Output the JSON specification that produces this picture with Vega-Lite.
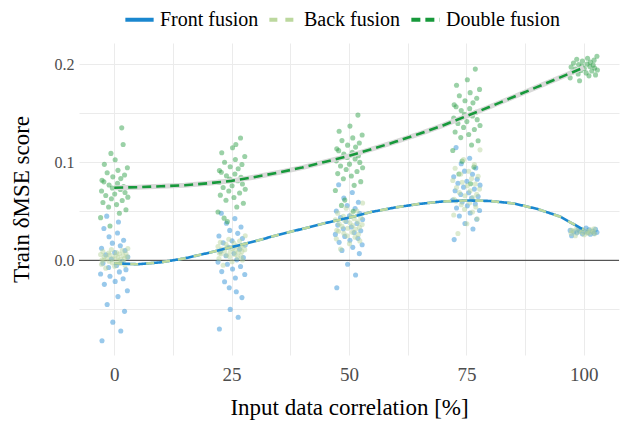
{
"$schema": "https://vega.github.io/schema/vega-lite/v6.json",
"width": 540, "height": 312,
"autosize": {"type": "none"},
"padding": {"left": 79, "top": 43, "right": 7, "bottom": 70},
"background": "white",
"config": {
  "view": {"stroke": null},
  "font": "Liberation Serif"
},
"datasets": {
"pts": [
{"x":-2.6,"y":-0.082,"s":"F"},{"x":1.4,"y":-0.072,"s":"F"},{"x":-0.3,"y":-0.063,"s":"F"},{"x":2.2,"y":-0.052,"s":"F"},{"x":-1.5,"y":-0.045,"s":"F"},{"x":0.8,"y":-0.037,"s":"F"},{"x":2.8,"y":-0.031,"s":"F"},{"x":-2.1,"y":-0.0245,"s":"F"},{"x":0.2,"y":-0.0215,"s":"F"},{"x":1.9,"y":-0.0188,"s":"F"},{"x":-0.9,"y":-0.0163,"s":"F"},{"x":-2.9,"y":-0.014,"s":"F"},{"x":1.1,"y":-0.0118,"s":"F"},{"x":2.5,"y":-0.0095,"s":"F"},{"x":-1.2,"y":-0.0073,"s":"F"},{"x":0.5,"y":-0.0053,"s":"F"},{"x":-2.4,"y":-0.003,"s":"F"},{"x":1.7,"y":-0.001,"s":"F"},{"x":-0.6,"y":0.0013,"s":"F"},{"x":2.9,"y":0.0033,"s":"F"},{"x":-1.8,"y":0.0055,"s":"F"},{"x":0.1,"y":0.0078,"s":"F"},{"x":2.3,"y":0.010,"s":"F"},{"x":-2.7,"y":0.0123,"s":"F"},{"x":1.3,"y":0.0148,"s":"F"},{"x":-0.4,"y":0.0175,"s":"F"},{"x":2.0,"y":0.0205,"s":"F"},{"x":-1.1,"y":0.024,"s":"F"},{"x":0.7,"y":0.0278,"s":"F"},{"x":-2.2,"y":0.0325,"s":"F"},{"x":0.9,"y":0.039,"s":"F"},{"x":-1.6,"y":0.045,"s":"F"},
{"x":22.4,"y":-0.07,"s":"F"},{"x":26.4,"y":-0.058,"s":"F"},{"x":24.7,"y":-0.05,"s":"F"},{"x":27.2,"y":-0.038,"s":"F"},{"x":23.5,"y":-0.0218,"s":"F"},{"x":25.8,"y":-0.018,"s":"F"},{"x":27.8,"y":-0.0145,"s":"F"},{"x":22.9,"y":-0.0115,"s":"F"},{"x":25.2,"y":-0.0088,"s":"F"},{"x":26.9,"y":-0.0063,"s":"F"},{"x":24.1,"y":-0.004,"s":"F"},{"x":22.1,"y":-0.0018,"s":"F"},{"x":26.1,"y":0.0005,"s":"F"},{"x":27.5,"y":0.0027,"s":"F"},{"x":23.8,"y":0.0047,"s":"F"},{"x":25.5,"y":0.007,"s":"F"},{"x":22.6,"y":0.009,"s":"F"},{"x":26.7,"y":0.0113,"s":"F"},{"x":24.4,"y":0.0133,"s":"F"},{"x":27.9,"y":0.0155,"s":"F"},{"x":23.2,"y":0.0178,"s":"F"},{"x":25.1,"y":0.020,"s":"F"},{"x":27.3,"y":0.0223,"s":"F"},{"x":22.3,"y":0.0248,"s":"F"},{"x":26.3,"y":0.0275,"s":"F"},{"x":24.6,"y":0.0305,"s":"F"},{"x":27.0,"y":0.034,"s":"F"},{"x":23.9,"y":0.0378,"s":"F"},{"x":25.7,"y":0.0425,"s":"F"},{"x":22.8,"y":0.048,"s":"F"},{"x":24.5,"y":-0.028,"s":"F"},{"x":26.0,"y":-0.032,"s":"F"},
{"x":47.4,"y":-0.028,"s":"F"},{"x":51.4,"y":-0.015,"s":"F"},{"x":49.7,"y":-0.004,"s":"F"},{"x":52.2,"y":0.0068,"s":"F"},{"x":48.5,"y":0.0101,"s":"F"},{"x":50.8,"y":0.0132,"s":"F"},{"x":52.8,"y":0.0158,"s":"F"},{"x":47.9,"y":0.0183,"s":"F"},{"x":50.2,"y":0.0205,"s":"F"},{"x":51.9,"y":0.0224,"s":"F"},{"x":49.1,"y":0.0244,"s":"F"},{"x":47.1,"y":0.0264,"s":"F"},{"x":51.1,"y":0.0284,"s":"F"},{"x":52.5,"y":0.0301,"s":"F"},{"x":48.8,"y":0.0321,"s":"F"},{"x":50.5,"y":0.0339,"s":"F"},{"x":47.6,"y":0.0359,"s":"F"},{"x":51.7,"y":0.0376,"s":"F"},{"x":49.4,"y":0.0396,"s":"F"},{"x":52.9,"y":0.0416,"s":"F"},{"x":48.2,"y":0.0436,"s":"F"},{"x":50.1,"y":0.0455,"s":"F"},{"x":52.3,"y":0.0477,"s":"F"},{"x":47.3,"y":0.0502,"s":"F"},{"x":51.3,"y":0.0528,"s":"F"},{"x":49.6,"y":0.0559,"s":"F"},{"x":52.0,"y":0.0592,"s":"F"},{"x":48.9,"y":0.0634,"s":"F"},{"x":50.7,"y":0.0691,"s":"F"},{"x":47.8,"y":0.077,"s":"F"},
{"x":72.4,"y":0.0211,"s":"F"},{"x":76.4,"y":0.0319,"s":"F"},{"x":74.7,"y":0.0376,"s":"F"},{"x":77.2,"y":0.0418,"s":"F"},{"x":73.5,"y":0.0451,"s":"F"},{"x":75.8,"y":0.0482,"s":"F"},{"x":77.8,"y":0.0508,"s":"F"},{"x":72.9,"y":0.0533,"s":"F"},{"x":75.2,"y":0.0555,"s":"F"},{"x":76.9,"y":0.0574,"s":"F"},{"x":74.1,"y":0.0594,"s":"F"},{"x":72.1,"y":0.0614,"s":"F"},{"x":76.1,"y":0.0634,"s":"F"},{"x":77.5,"y":0.0651,"s":"F"},{"x":73.8,"y":0.0671,"s":"F"},{"x":75.5,"y":0.0689,"s":"F"},{"x":72.6,"y":0.0709,"s":"F"},{"x":76.7,"y":0.0726,"s":"F"},{"x":74.4,"y":0.0746,"s":"F"},{"x":77.9,"y":0.0766,"s":"F"},{"x":73.2,"y":0.0786,"s":"F"},{"x":75.1,"y":0.0805,"s":"F"},{"x":77.3,"y":0.0827,"s":"F"},{"x":72.3,"y":0.0852,"s":"F"},{"x":76.3,"y":0.0878,"s":"F"},{"x":74.6,"y":0.0909,"s":"F"},{"x":77.0,"y":0.0942,"s":"F"},{"x":73.9,"y":0.0984,"s":"F"},{"x":75.7,"y":0.1041,"s":"F"},{"x":72.8,"y":0.1149,"s":"F"},
{"x":97.4,"y":0.025,"s":"F"},{"x":101.4,"y":0.0265,"s":"F"},{"x":99.7,"y":0.027,"s":"F"},{"x":102.2,"y":0.0275,"s":"F"},{"x":98.5,"y":0.028,"s":"F"},{"x":100.8,"y":0.0285,"s":"F"},{"x":102.8,"y":0.0285,"s":"F"},{"x":97.9,"y":0.029,"s":"F"},{"x":100.2,"y":0.029,"s":"F"},{"x":101.9,"y":0.0295,"s":"F"},{"x":99.1,"y":0.030,"s":"F"},{"x":97.1,"y":0.0305,"s":"F"},{"x":101.1,"y":0.031,"s":"F"},{"x":102.5,"y":0.0315,"s":"F"},{"x":98.8,"y":0.032,"s":"F"},{"x":100.5,"y":0.033,"s":"F"},
{"x":-0.9,"y":0.035,"s":"D"},{"x":-2.9,"y":0.0435,"s":"D"},{"x":1.1,"y":0.048,"s":"D"},{"x":2.5,"y":0.0516,"s":"D"},{"x":-1.2,"y":0.0543,"s":"D"},{"x":0.5,"y":0.0568,"s":"D"},{"x":-2.4,"y":0.059,"s":"D"},{"x":1.7,"y":0.061,"s":"D"},{"x":-0.6,"y":0.0627,"s":"D"},{"x":2.9,"y":0.0644,"s":"D"},{"x":-1.8,"y":0.066,"s":"D"},{"x":0.1,"y":0.0676,"s":"D"},{"x":2.3,"y":0.0692,"s":"D"},{"x":-2.7,"y":0.0707,"s":"D"},{"x":1.3,"y":0.0723,"s":"D"},{"x":-0.4,"y":0.0737,"s":"D"},{"x":2.0,"y":0.0753,"s":"D"},{"x":-1.1,"y":0.0768,"s":"D"},{"x":0.7,"y":0.0784,"s":"D"},{"x":-2.2,"y":0.080,"s":"D"},{"x":-2.6,"y":0.0816,"s":"D"},{"x":1.4,"y":0.0833,"s":"D"},{"x":-0.3,"y":0.0851,"s":"D"},{"x":2.2,"y":0.087,"s":"D"},{"x":-1.5,"y":0.0892,"s":"D"},{"x":0.8,"y":0.0917,"s":"D"},{"x":2.8,"y":0.0944,"s":"D"},{"x":-2.1,"y":0.0978,"s":"D"},{"x":0.2,"y":0.1025,"s":"D"},{"x":1.9,"y":0.118,"s":"D"},{"x":1.6,"y":0.135,"s":"D"},{"x":-0.7,"y":0.109,"s":"D"},
{"x":24.1,"y":0.0394,"s":"D"},{"x":22.1,"y":0.0492,"s":"D"},{"x":26.1,"y":0.0544,"s":"D"},{"x":27.5,"y":0.0582,"s":"D"},{"x":23.8,"y":0.0612,"s":"D"},{"x":25.5,"y":0.064,"s":"D"},{"x":22.6,"y":0.0664,"s":"D"},{"x":26.7,"y":0.0686,"s":"D"},{"x":24.4,"y":0.0706,"s":"D"},{"x":27.9,"y":0.0724,"s":"D"},{"x":23.2,"y":0.0742,"s":"D"},{"x":25.1,"y":0.076,"s":"D"},{"x":27.3,"y":0.0778,"s":"D"},{"x":22.3,"y":0.0794,"s":"D"},{"x":26.3,"y":0.0812,"s":"D"},{"x":24.6,"y":0.0828,"s":"D"},{"x":27.0,"y":0.0846,"s":"D"},{"x":23.9,"y":0.0862,"s":"D"},{"x":25.7,"y":0.088,"s":"D"},{"x":22.8,"y":0.0898,"s":"D"},{"x":22.4,"y":0.0916,"s":"D"},{"x":26.4,"y":0.0934,"s":"D"},{"x":24.7,"y":0.0954,"s":"D"},{"x":27.2,"y":0.0976,"s":"D"},{"x":23.5,"y":0.100,"s":"D"},{"x":25.8,"y":0.1028,"s":"D"},{"x":27.8,"y":0.1058,"s":"D"},{"x":22.9,"y":0.1096,"s":"D"},{"x":25.2,"y":0.1148,"s":"D"},{"x":26.9,"y":0.1246,"s":"D"},{"x":25.9,"y":0.118,"s":"D"},{"x":23.4,"y":0.043,"s":"D"},
{"x":49.1,"y":0.0614,"s":"D"},{"x":47.1,"y":0.0712,"s":"D"},{"x":51.1,"y":0.0764,"s":"D"},{"x":52.5,"y":0.0802,"s":"D"},{"x":48.8,"y":0.0832,"s":"D"},{"x":50.5,"y":0.086,"s":"D"},{"x":47.6,"y":0.0884,"s":"D"},{"x":51.7,"y":0.0906,"s":"D"},{"x":49.4,"y":0.0926,"s":"D"},{"x":52.9,"y":0.0944,"s":"D"},{"x":48.2,"y":0.0962,"s":"D"},{"x":50.1,"y":0.098,"s":"D"},{"x":52.3,"y":0.0998,"s":"D"},{"x":47.3,"y":0.1014,"s":"D"},{"x":51.3,"y":0.1032,"s":"D"},{"x":49.6,"y":0.1048,"s":"D"},{"x":52.0,"y":0.1066,"s":"D"},{"x":48.9,"y":0.1082,"s":"D"},{"x":50.7,"y":0.110,"s":"D"},{"x":47.8,"y":0.1118,"s":"D"},{"x":47.4,"y":0.1136,"s":"D"},{"x":51.4,"y":0.1154,"s":"D"},{"x":49.7,"y":0.1174,"s":"D"},{"x":52.2,"y":0.1196,"s":"D"},{"x":48.5,"y":0.122,"s":"D"},{"x":50.8,"y":0.1248,"s":"D"},{"x":52.8,"y":0.1278,"s":"D"},{"x":47.9,"y":0.1316,"s":"D"},{"x":50.2,"y":0.1368,"s":"D"},{"x":51.9,"y":0.148,"s":"D"},{"x":50.9,"y":0.05,"s":"D"},{"x":48.4,"y":0.056,"s":"D"},
{"x":74.1,"y":0.1011,"s":"D"},{"x":72.1,"y":0.1119,"s":"D"},{"x":76.1,"y":0.1176,"s":"D"},{"x":77.5,"y":0.1218,"s":"D"},{"x":73.8,"y":0.1251,"s":"D"},{"x":75.5,"y":0.1282,"s":"D"},{"x":72.6,"y":0.1308,"s":"D"},{"x":76.7,"y":0.1333,"s":"D"},{"x":74.4,"y":0.1355,"s":"D"},{"x":77.9,"y":0.1374,"s":"D"},{"x":73.2,"y":0.1394,"s":"D"},{"x":75.1,"y":0.1414,"s":"D"},{"x":77.3,"y":0.1434,"s":"D"},{"x":72.3,"y":0.1451,"s":"D"},{"x":76.3,"y":0.1471,"s":"D"},{"x":74.6,"y":0.1489,"s":"D"},{"x":77.0,"y":0.1509,"s":"D"},{"x":73.9,"y":0.1526,"s":"D"},{"x":75.7,"y":0.1546,"s":"D"},{"x":72.8,"y":0.1566,"s":"D"},{"x":72.4,"y":0.1586,"s":"D"},{"x":76.4,"y":0.1605,"s":"D"},{"x":74.7,"y":0.1627,"s":"D"},{"x":77.2,"y":0.1652,"s":"D"},{"x":73.5,"y":0.1678,"s":"D"},{"x":75.8,"y":0.1709,"s":"D"},{"x":77.8,"y":0.1742,"s":"D"},{"x":72.9,"y":0.1784,"s":"D"},{"x":75.2,"y":0.1841,"s":"D"},{"x":76.9,"y":0.1949,"s":"D"},{"x":75.9,"y":0.078,"s":"D"},{"x":73.4,"y":0.088,"s":"D"},{"x":76.6,"y":0.095,"s":"D"},
{"x":99.1,"y":0.183,"s":"D"},{"x":97.1,"y":0.186,"s":"D"},{"x":101.1,"y":0.188,"s":"D"},{"x":102.5,"y":0.189,"s":"D"},{"x":98.8,"y":0.19,"s":"D"},{"x":100.5,"y":0.191,"s":"D"},{"x":97.6,"y":0.192,"s":"D"},{"x":101.7,"y":0.193,"s":"D"},{"x":99.4,"y":0.1935,"s":"D"},{"x":102.9,"y":0.194,"s":"D"},{"x":98.2,"y":0.195,"s":"D"},{"x":100.1,"y":0.1955,"s":"D"},{"x":102.3,"y":0.196,"s":"D"},{"x":97.3,"y":0.197,"s":"D"},{"x":101.3,"y":0.1975,"s":"D"},{"x":99.6,"y":0.198,"s":"D"},{"x":102.0,"y":0.199,"s":"D"},{"x":98.9,"y":0.1995,"s":"D"},{"x":100.7,"y":0.2,"s":"D"},{"x":97.8,"y":0.201,"s":"D"},{"x":101.4,"y":0.202,"s":"D"},{"x":99.7,"y":0.203,"s":"D"},{"x":102.2,"y":0.204,"s":"D"},{"x":98.5,"y":0.205,"s":"D"},{"x":100.8,"y":0.206,"s":"D"},{"x":102.8,"y":0.208,"s":"D"},
{"x":-1.8,"y":-0.008,"s":"B"},{"x":0.1,"y":-0.006,"s":"B"},{"x":2.3,"y":-0.005,"s":"B"},{"x":-2.7,"y":-0.004,"s":"B"},{"x":1.3,"y":-0.003,"s":"B"},{"x":-0.4,"y":-0.0025,"s":"B"},{"x":2.0,"y":-0.002,"s":"B"},{"x":-1.1,"y":-0.001,"s":"B"},{"x":0.7,"y":-0.0005,"s":"B"},{"x":-2.2,"y":0.0,"s":"B"},{"x":-2.6,"y":0.0005,"s":"B"},{"x":1.4,"y":0.001,"s":"B"},{"x":-0.3,"y":0.0015,"s":"B"},{"x":2.2,"y":0.002,"s":"B"},{"x":-1.5,"y":0.0025,"s":"B"},{"x":0.8,"y":0.003,"s":"B"},{"x":2.8,"y":0.0035,"s":"B"},{"x":-2.1,"y":0.004,"s":"B"},{"x":0.2,"y":0.0045,"s":"B"},{"x":1.9,"y":0.005,"s":"B"},{"x":-0.9,"y":0.0055,"s":"B"},{"x":-2.9,"y":0.006,"s":"B"},{"x":1.1,"y":0.0065,"s":"B"},{"x":2.5,"y":0.007,"s":"B"},{"x":-1.2,"y":0.0075,"s":"B"},{"x":0.5,"y":0.008,"s":"B"},{"x":-2.4,"y":0.009,"s":"B"},{"x":1.7,"y":0.01,"s":"B"},{"x":-0.6,"y":0.011,"s":"B"},{"x":2.9,"y":0.012,"s":"B"},
{"x":23.2,"y":-0.005,"s":"B"},{"x":25.1,"y":-0.0015,"s":"B"},{"x":27.3,"y":0.0003,"s":"B"},{"x":22.3,"y":0.0017,"s":"B"},{"x":26.3,"y":0.0027,"s":"B"},{"x":24.6,"y":0.0037,"s":"B"},{"x":27.0,"y":0.0045,"s":"B"},{"x":23.9,"y":0.0053,"s":"B"},{"x":25.7,"y":0.006,"s":"B"},{"x":22.8,"y":0.0066,"s":"B"},{"x":22.4,"y":0.0073,"s":"B"},{"x":26.4,"y":0.0079,"s":"B"},{"x":24.7,"y":0.0085,"s":"B"},{"x":27.2,"y":0.0091,"s":"B"},{"x":23.5,"y":0.0097,"s":"B"},{"x":25.8,"y":0.0103,"s":"B"},{"x":27.8,"y":0.0109,"s":"B"},{"x":22.9,"y":0.0115,"s":"B"},{"x":25.2,"y":0.0121,"s":"B"},{"x":26.9,"y":0.0127,"s":"B"},{"x":24.1,"y":0.0134,"s":"B"},{"x":22.1,"y":0.014,"s":"B"},{"x":26.1,"y":0.0147,"s":"B"},{"x":27.5,"y":0.0155,"s":"B"},{"x":23.8,"y":0.0163,"s":"B"},{"x":25.5,"y":0.0173,"s":"B"},{"x":22.6,"y":0.0183,"s":"B"},{"x":26.7,"y":0.0197,"s":"B"},{"x":24.4,"y":0.0215,"s":"B"},{"x":27.9,"y":0.025,"s":"B"},
{"x":48.2,"y":0.0116,"s":"B"},{"x":50.1,"y":0.017,"s":"B"},{"x":52.3,"y":0.0198,"s":"B"},{"x":47.3,"y":0.0219,"s":"B"},{"x":51.3,"y":0.0236,"s":"B"},{"x":49.6,"y":0.0251,"s":"B"},{"x":52.0,"y":0.0264,"s":"B"},{"x":48.9,"y":0.0276,"s":"B"},{"x":50.7,"y":0.0287,"s":"B"},{"x":47.8,"y":0.0297,"s":"B"},{"x":47.4,"y":0.0307,"s":"B"},{"x":51.4,"y":0.0317,"s":"B"},{"x":49.7,"y":0.0327,"s":"B"},{"x":52.2,"y":0.0336,"s":"B"},{"x":48.5,"y":0.0346,"s":"B"},{"x":50.8,"y":0.0354,"s":"B"},{"x":52.8,"y":0.0364,"s":"B"},{"x":47.9,"y":0.0373,"s":"B"},{"x":50.2,"y":0.0383,"s":"B"},{"x":51.9,"y":0.0393,"s":"B"},{"x":49.1,"y":0.0403,"s":"B"},{"x":47.1,"y":0.0413,"s":"B"},{"x":51.1,"y":0.0424,"s":"B"},{"x":52.5,"y":0.0436,"s":"B"},{"x":48.8,"y":0.0449,"s":"B"},{"x":50.5,"y":0.0464,"s":"B"},{"x":47.6,"y":0.0481,"s":"B"},{"x":51.7,"y":0.0502,"s":"B"},{"x":49.4,"y":0.053,"s":"B"},{"x":52.9,"y":0.0584,"s":"B"},
{"x":73.2,"y":0.0274,"s":"B"},{"x":75.1,"y":0.0372,"s":"B"},{"x":77.3,"y":0.0424,"s":"B"},{"x":72.3,"y":0.0462,"s":"B"},{"x":76.3,"y":0.0492,"s":"B"},{"x":74.6,"y":0.052,"s":"B"},{"x":77.0,"y":0.0544,"s":"B"},{"x":73.9,"y":0.0566,"s":"B"},{"x":75.7,"y":0.0586,"s":"B"},{"x":72.8,"y":0.0604,"s":"B"},{"x":72.4,"y":0.0622,"s":"B"},{"x":76.4,"y":0.064,"s":"B"},{"x":74.7,"y":0.0658,"s":"B"},{"x":77.2,"y":0.0674,"s":"B"},{"x":73.5,"y":0.0692,"s":"B"},{"x":75.8,"y":0.0708,"s":"B"},{"x":77.8,"y":0.0726,"s":"B"},{"x":72.9,"y":0.0742,"s":"B"},{"x":75.2,"y":0.076,"s":"B"},{"x":76.9,"y":0.0778,"s":"B"},{"x":74.1,"y":0.0796,"s":"B"},{"x":72.1,"y":0.0814,"s":"B"},{"x":76.1,"y":0.0834,"s":"B"},{"x":77.5,"y":0.0856,"s":"B"},{"x":73.8,"y":0.088,"s":"B"},{"x":75.5,"y":0.0908,"s":"B"},{"x":72.6,"y":0.0938,"s":"B"},{"x":76.7,"y":0.0976,"s":"B"},{"x":74.4,"y":0.1028,"s":"B"},{"x":77.9,"y":0.1126,"s":"B"},
{"x":98.2,"y":0.025,"s":"B"},{"x":100.1,"y":0.026,"s":"B"},{"x":102.3,"y":0.027,"s":"B"},{"x":97.3,"y":0.0275,"s":"B"},{"x":101.3,"y":0.028,"s":"B"},{"x":99.6,"y":0.0285,"s":"B"},{"x":102.0,"y":0.029,"s":"B"},{"x":98.9,"y":0.029,"s":"B"},{"x":100.7,"y":0.0295,"s":"B"},{"x":97.8,"y":0.030,"s":"B"},{"x":97.4,"y":0.0305,"s":"B"},{"x":101.4,"y":0.031,"s":"B"},{"x":99.7,"y":0.0315,"s":"B"},{"x":102.2,"y":0.032,"s":"B"},{"x":98.5,"y":0.033,"s":"B"},{"x":100.8,"y":0.0275,"s":"B"}
],
"crv": [
{"x":0,"y":-0.003,"s":"Front fusion"},{"x":5,"y":-0.004,"s":"Front fusion"},{"x":10,"y":-0.002,"s":"Front fusion"},{"x":15,"y":0.002,"s":"Front fusion"},{"x":20,"y":0.0075,"s":"Front fusion"},{"x":25,"y":0.0135,"s":"Front fusion"},{"x":30,"y":0.0195,"s":"Front fusion"},{"x":35,"y":0.026,"s":"Front fusion"},{"x":40,"y":0.032,"s":"Front fusion"},{"x":45,"y":0.038,"s":"Front fusion"},{"x":50,"y":0.0435,"s":"Front fusion"},{"x":55,"y":0.0495,"s":"Front fusion"},{"x":60,"y":0.054,"s":"Front fusion"},{"x":65,"y":0.0575,"s":"Front fusion"},{"x":70,"y":0.06,"s":"Front fusion"},{"x":75,"y":0.061,"s":"Front fusion"},{"x":80,"y":0.0605,"s":"Front fusion"},{"x":85,"y":0.058,"s":"Front fusion"},{"x":90,"y":0.0525,"s":"Front fusion"},{"x":95,"y":0.0445,"s":"Front fusion"},{"x":100,"y":0.031,"s":"Front fusion"},
{"x":0,"y":-0.003,"s":"Back fusion"},{"x":5,"y":-0.004,"s":"Back fusion"},{"x":10,"y":-0.002,"s":"Back fusion"},{"x":15,"y":0.002,"s":"Back fusion"},{"x":20,"y":0.0075,"s":"Back fusion"},{"x":25,"y":0.0135,"s":"Back fusion"},{"x":30,"y":0.0195,"s":"Back fusion"},{"x":35,"y":0.026,"s":"Back fusion"},{"x":40,"y":0.032,"s":"Back fusion"},{"x":45,"y":0.038,"s":"Back fusion"},{"x":50,"y":0.0435,"s":"Back fusion"},{"x":55,"y":0.0495,"s":"Back fusion"},{"x":60,"y":0.054,"s":"Back fusion"},{"x":65,"y":0.0575,"s":"Back fusion"},{"x":70,"y":0.06,"s":"Back fusion"},{"x":75,"y":0.061,"s":"Back fusion"},{"x":80,"y":0.0605,"s":"Back fusion"},{"x":85,"y":0.058,"s":"Back fusion"},{"x":90,"y":0.0525,"s":"Back fusion"},{"x":95,"y":0.0445,"s":"Back fusion"},{"x":100,"y":0.031,"s":"Back fusion"},
{"x":0,"y":0.074,"s":"Double fusion"},{"x":5,"y":0.0745,"s":"Double fusion"},{"x":10,"y":0.0755,"s":"Double fusion"},{"x":15,"y":0.0765,"s":"Double fusion"},{"x":20,"y":0.0785,"s":"Double fusion"},{"x":25,"y":0.081,"s":"Double fusion"},{"x":30,"y":0.085,"s":"Double fusion"},{"x":35,"y":0.0895,"s":"Double fusion"},{"x":40,"y":0.0945,"s":"Double fusion"},{"x":45,"y":0.1005,"s":"Double fusion"},{"x":50,"y":0.1065,"s":"Double fusion"},{"x":55,"y":0.1135,"s":"Double fusion"},{"x":60,"y":0.121,"s":"Double fusion"},{"x":65,"y":0.129,"s":"Double fusion"},{"x":70,"y":0.1375,"s":"Double fusion"},{"x":75,"y":0.147,"s":"Double fusion"},{"x":80,"y":0.1565,"s":"Double fusion"},{"x":85,"y":0.1665,"s":"Double fusion"},{"x":90,"y":0.1765,"s":"Double fusion"},{"x":95,"y":0.1865,"s":"Double fusion"},{"x":100,"y":0.1965,"s":"Double fusion"}
]
},
"layer": [
{
  "data": {"values": [{"y": 0}]},
  "mark": {"type": "rule", "color": "#333333", "strokeWidth": 1},
  "encoding": {
    "y": {"field": "y", "type": "quantitative", "title": "Train δMSE score", "scale": {"domain": [-0.0965, 0.2215], "nice": false, "zero": false}}
  }
},
{
  "data": {"name": "pts"},
  "mark": {"type": "circle", "size": 26, "opacity": 0.48},
  "encoding": {
    "x": {"field": "x", "type": "quantitative", "title": "Input data correlation [%]", "scale": {"domain": [-7.5, 107.5], "nice": false, "zero": false},
      "axis": {"values": [0, 12.5, 25, 37.5, 50, 62.5, 75, 87.5, 100], "labelExpr": "datum.value % 25 == 0 ? datum.label : ''", "domain": false, "ticks": false, "grid": true, "gridColor": "#ebebeb", "gridWidth": 1, "labelFont": "Liberation Serif", "labelFontSize": 19, "labelColor": "#4d4d4d", "labelPadding": 10, "labelFlush": false, "labelOverlap": false, "labelBound": false, "titleFont": "Liberation Serif", "titleFontSize": 23, "titleFontWeight": "normal", "titleColor": "#000000", "titlePadding": 12}},
    "y": {"field": "y", "type": "quantitative", "title": "Train δMSE score", "scale": {"domain": [-0.0965, 0.2215], "nice": false, "zero": false},
      "axis": {"values": [-0.05, 0, 0.05, 0.1, 0.15, 0.2], "labelExpr": "abs(datum.value*10 - round(datum.value*10)) < 0.001 ? format(datum.value, '.1f') : ''", "domain": false, "ticks": false, "grid": true, "gridColor": "#ebebeb", "gridWidth": 1, "labelFont": "Liberation Serif", "labelFontSize": 16, "labelColor": "#4d4d4d", "labelPadding": 5, "labelOverlap": false, "titleFont": "Liberation Serif", "titleFontSize": 23, "titleFontWeight": "normal", "titleColor": "#000000", "titlePadding": 21}},
    "fill": {"field": "s", "type": "nominal", "scale": {"domain": ["F", "B", "D"], "range": ["#2a8fd5", "#b5d49a", "#2e9e48"]}, "legend": null}
  }
},
{
  "data": {"name": "crv"},
  "transform": [{"filter": "datum.s == 'Double fusion'"}],
  "mark": {"type": "line", "color": "#d9d9d9", "strokeWidth": 5},
  "encoding": {
    "x": {"field": "x", "type": "quantitative", "title": "Input data correlation [%]", "scale": {"domain": [-7.5, 107.5], "nice": false, "zero": false}},
    "y": {"field": "y", "type": "quantitative", "title": "Train δMSE score", "scale": {"domain": [-0.0965, 0.2215], "nice": false, "zero": false}}
  }
},
{
  "data": {"name": "crv"},
  "mark": {"type": "line", "strokeWidth": 2.6},
  "encoding": {
    "x": {"field": "x", "type": "quantitative", "title": "Input data correlation [%]", "scale": {"domain": [-7.5, 107.5], "nice": false, "zero": false}},
    "y": {"field": "y", "type": "quantitative", "title": "Train δMSE score", "scale": {"domain": [-0.0965, 0.2215], "nice": false, "zero": false}},
    "color": {"field": "s", "type": "nominal", "sort": null, "scale": {"domain": ["Front fusion", "Back fusion", "Double fusion"], "range": ["#1a87cf", "#bcd89e", "#17993b"]},
      "legend": {"title": null, "orient": "none", "legendX": 44, "legendY": -40, "direction": "horizontal", "labelFont": "Liberation Serif", "labelFontSize": 20, "labelColor": "#000000", "symbolType": "stroke", "symbolStrokeWidth": 4, "symbolSize": 800, "columnPadding": 2, "labelOffset": 4}},
    "strokeDash": {"field": "s", "type": "nominal", "sort": null, "scale": {"domain": ["Front fusion", "Back fusion", "Double fusion"], "range": [[1, 0], [8, 8], [9, 5]]},
      "legend": {"title": null, "orient": "none", "legendX": 44, "legendY": -40, "direction": "horizontal", "labelFont": "Liberation Serif", "labelFontSize": 20, "labelColor": "#000000", "symbolType": "stroke", "symbolStrokeWidth": 4, "symbolSize": 800, "columnPadding": 2, "labelOffset": 4}}
  }
}
]
}
